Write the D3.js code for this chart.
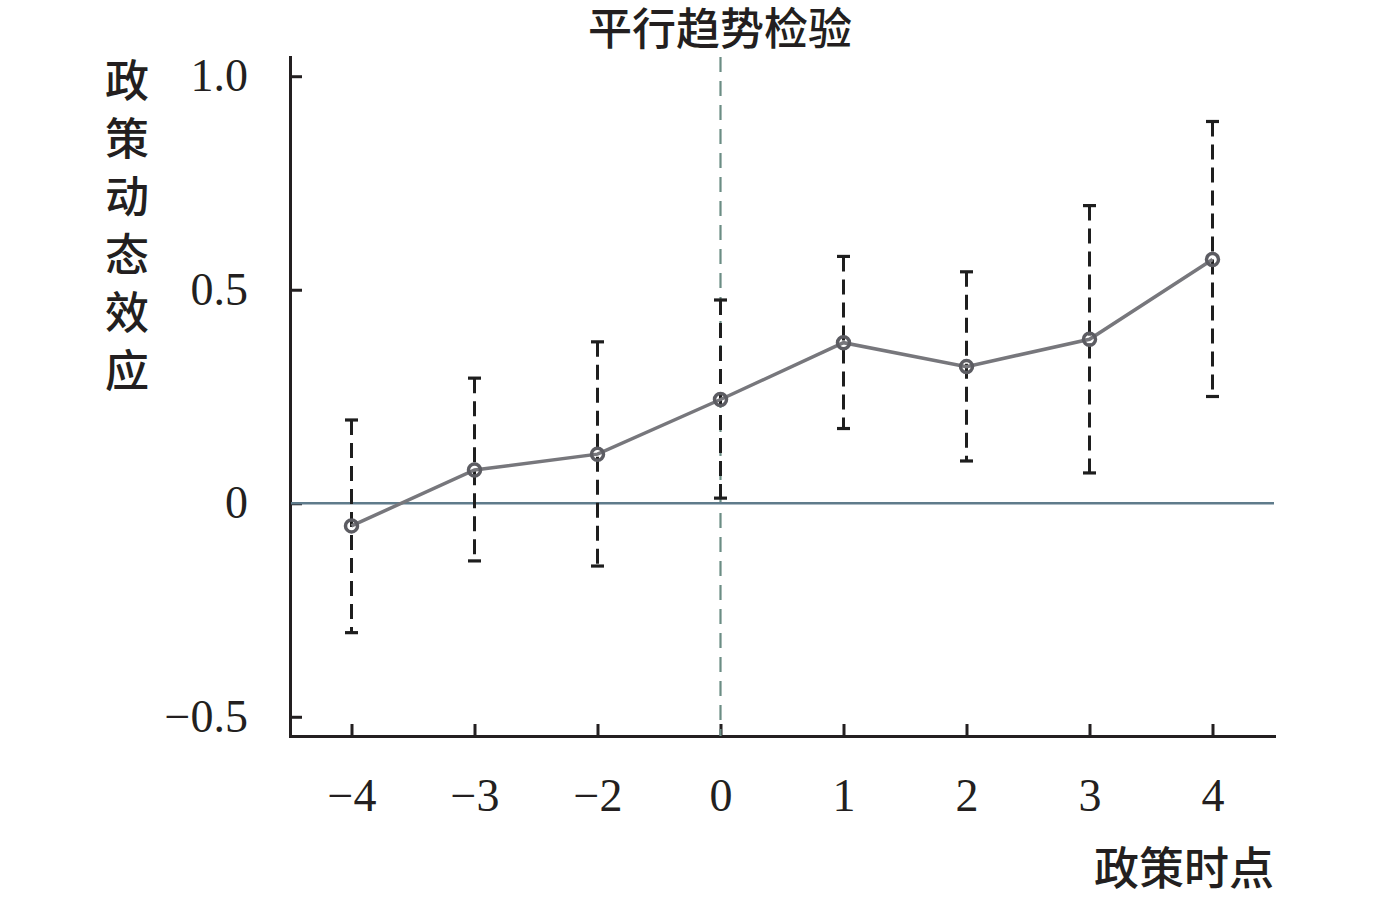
<!DOCTYPE html>
<html>
<head>
<meta charset="utf-8">
<script src="https://cdn.jsdelivr.net/npm/d3@7"></script>
<style>
  body { margin: 0; background: #fff; }
  .axis path, .axis line { stroke: #231f20; stroke-width: 3; }
  .axis text { font-family: "Liberation Serif", "DejaVu Serif", serif; font-size: 46px; fill: #231f20; }
  .cjk { font-family: "Noto Sans CJK SC", sans-serif; font-weight: 500; fill: #231f20; }
</style>
</head>
<body>
<div class="container"></div>
<script>
const w = 1378;
const h = 898;
const margin = { top: 57, right: 104, bottom: 162, left: 290 };
const width = w - margin.left - margin.right;
const height = h - margin.top - margin.bottom;

// data
const periods = ["\u22124", "\u22123", "\u22122", "0", "1", "2", "3", "4"];
const estimate = [-0.053, 0.078, 0.115, 0.243, 0.376, 0.320, 0.384, 0.571];
const ciUpper = [0.195, 0.293, 0.378, 0.476, 0.578, 0.542, 0.697, 0.894];
const ciLower = [-0.303, -0.135, -0.147, 0.012, 0.175, 0.099, 0.071, 0.250];
const yTicks = [-0.5, 0, 0.5, 1.0];
const yDomain = [-0.545, 1.045];
const policyPeriod = "0";

const rows = periods.map((p, i) => ({ p, est: estimate[i], hi: ciUpper[i], lo: ciLower[i] }));

const svg = d3.select('.container').append('svg')
  .attr('width', w)
  .attr('height', h);

const chart = svg.append('g')
  .attr('transform', `translate(${margin.left}, ${margin.top})`);

const x = d3.scalePoint().domain(periods).range([0, width]).padding(0.5);
const y = d3.scaleLinear().domain(yDomain).range([height, 0]);

const fmt = v => v === 0 ? "0" : d3.format(".1f")(v);

chart.append('g')
  .attr('class', 'axis')
  .call(d3.axisLeft(y).tickValues(yTicks).tickFormat(fmt).tickSizeInner(-12).tickSizeOuter(0).tickPadding(42));

chart.append('g')
  .attr('class', 'axis')
  .attr('transform', `translate(0, ${height})`)
  .call(d3.axisBottom(x).tickSizeInner(-12).tickSizeOuter(0).tickPadding(42));

chart.selectAll('.axis .domain').attr('stroke-linecap', 'square');

// policy point
chart.append('line')
  .attr('x1', x(policyPeriod)).attr('x2', x(policyPeriod))
  .attr('y1', 0).attr('y2', height)
  .attr('stroke', '#6b8d84')
  .attr('stroke-width', 2.2)
  .attr('stroke-dasharray', '15,9');

// zero line
chart.append('line')
  .attr('x1', 1).attr('x2', width)
  .attr('y1', y(0)).attr('y2', y(0))
  .attr('stroke', '#5f7b8b')
  .attr('stroke-width', 2.5);

// error bars
const bars = chart.selectAll('.err')
  .data(rows)
  .enter().append('g')
  .attr('class', 'err')
  .attr('stroke', '#1e1e1e');

bars.append('line')
  .attr('x1', d => x(d.p)).attr('x2', d => x(d.p))
  .attr('y1', d => y(d.hi)).attr('y2', d => y(d.lo))
  .attr('stroke-width', 3)
  .attr('stroke-dasharray', '15,8');

bars.selectAll('.cap')
  .data(d => [{ p: d.p, v: d.hi }, { p: d.p, v: d.lo }])
  .enter().append('line')
  .attr('x1', d => x(d.p) - 6.5).attr('x2', d => x(d.p) + 6.5)
  .attr('y1', d => y(d.v)).attr('y2', d => y(d.v))
  .attr('stroke-width', 3.2);

// estimate line
chart.append('path')
  .datum(rows)
  .attr('fill', 'none')
  .attr('stroke', '#77777c')
  .attr('stroke-width', 3.5)
  .attr('d', d3.line().x(d => x(d.p)).y(d => y(d.est)));

chart.selectAll('.pt')
  .data(rows)
  .enter().append('circle')
  .attr('class', 'pt')
  .attr('cx', d => x(d.p))
  .attr('cy', d => y(d.est))
  .attr('r', 6)
  .attr('fill', 'none')
  .attr('stroke', '#5c5c62')
  .attr('stroke-width', 3.5);

// title and labels
svg.append('text')
  .attr('class', 'cjk')
  .attr('x', 720)
  .attr('y', 45)
  .attr('text-anchor', 'middle')
  .style('font-size', '44px')
  .text('平行趋势检验');

const ylab = svg.append('text')
  .attr('class', 'cjk')
  .attr('text-anchor', 'middle')
  .style('font-size', '44px');
ylab.selectAll('tspan')
  .data('政策动态效应'.split(''))
  .enter().append('tspan')
  .attr('x', 127)
  .attr('y', (d, i) => 97 + i * 58)
  .text(d => d);

svg.append('text')
  .attr('class', 'cjk')
  .attr('x', 1274)
  .attr('y', 885)
  .attr('text-anchor', 'end')
  .style('font-size', '45px')
  .text('政策时点');
</script>
</body>
</html>
